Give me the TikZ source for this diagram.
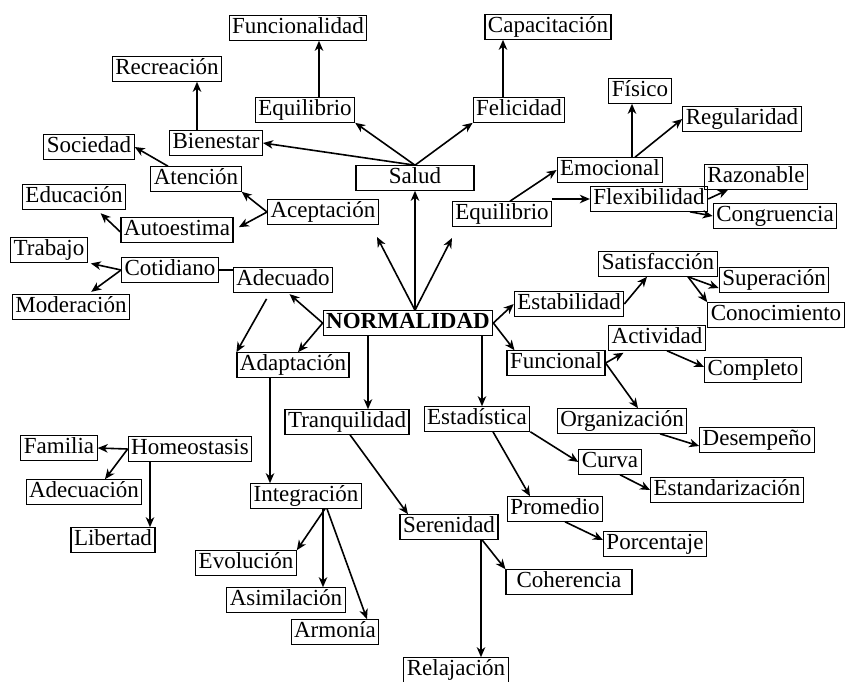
\documentclass[tikz,border=0pt]{standalone}
\usepackage{fontspec}
\setmainfont{Liberation Serif}
\usetikzlibrary{arrows.meta,calc}
\begin{document}
\begin{tikzpicture}[x=1pt,y=-1pt,
  box/.style={draw,line width=1.1pt,inner xsep=3pt,inner ysep=1.5pt,
    text height=16pt,text depth=5.5pt,font=\fontsize{23}{27}\selectfont},
  arr/.style={line width=1.6pt,-{Stealth[length=10pt,width=8.5pt,inset=3pt]}},
  plain/.style={line width=1.6pt}]
\fill[white] (0,0) rectangle (846,681);
\useasboundingbox (0,0) rectangle (846,681);
% nodes
\node[box] (Funcionalidad) at (298,28) {Funcionalidad};
\node[box] (Capacitacion) at (548,27) {Capacitación};
\node[box] (Recreacion) at (167,69) {Recreación};
\node[box] (EquilibrioT) at (305,110) {Equilibrio};
\node[box] (Felicidad) at (519,110) {Felicidad};
\node[box] (Fisico) at (640,91) {Físico};
\node[box] (Regularidad) at (742,119) {Regularidad};
\node[box] (Bienestar) at (216,143) {Bienestar};
\node[box] (Sociedad) at (89,147) {Sociedad};
\node[box,minimum width=118pt] (Salud) at (415,178) {Salud};
\node[box] (Emocional) at (610,170) {Emocional};
\node[box] (Atencion) at (196,179) {Atención};
\node[box] (Razonable) at (756,177) {Razonable};
\node[box] (Flexibilidad) at (649,199) {Flexibilidad};
\node[box] (Congruencia) at (775,216) {Congruencia};
\node[box] (EquilibrioM) at (502,214) {Equilibrio};
\node[box] (Aceptacion) at (323,212) {Aceptación};
\node[box] (Educacion) at (74,197) {Educación};
\node[box] (Autoestima) at (177,230) {Autoestima};
\node[box] (Trabajo) at (49,250) {Trabajo};
\node[box] (Cotidiano) at (170,270) {Cotidiano};
\node[box] (Adecuado) at (283,280) {Adecuado};
\node[box] (Moderacion) at (71,307) {Moderación};
\node[box] (Satisfaccion) at (658,264) {Satisfacción};
\node[box] (Superacion) at (774,280) {Superación};
\node[box] (Estabilidad) at (569,304) {Estabilidad};
\node[box] (Conocimiento) at (776,315) {Conocimiento};
\node[box,font=\fontsize{23}{27}\selectfont\bfseries] (Normal) at (408,323) {NORMALIDAD};
\node[box] (Actividad) at (657,338) {Actividad};
\node[box] (Adaptacion) at (293,365) {Adaptación};
\node[box] (Funcional) at (556,363) {Funcional};
\node[box] (Completo) at (753,370) {Completo};
\node[box] (Tranquilidad) at (347,422) {Tranquilidad};
\node[box] (Estadistica) at (477,419) {Estadística};
\node[box] (Organizacion) at (622,421) {Organización};
\node[box] (Desempeno) at (757,440) {Desempeño};
\node[box] (Familia) at (59,448) {Familia};
\node[box] (Homeostasis) at (190,449) {Homeostasis};
\node[box] (Curva) at (610,462) {Curva};
\node[box] (Integracion) at (306,496) {Integración};
\node[box] (Adecuacion) at (84,492) {Adecuación};
\node[box] (Estandarizacion) at (727,490) {Estandarización};
\node[box] (Promedio) at (555,509) {Promedio};
\node[box] (Serenidad) at (449,527) {Serenidad};
\node[box] (Libertad) at (113,540) {Libertad};
\node[box] (Porcentaje) at (655,544) {Porcentaje};
\node[box] (Evolucion) at (246,563) {Evolución};
\node[box,minimum width=126pt] (Coherencia) at (569,582) {Coherencia};
\node[box] (Asimilacion) at (286,600) {Asimilación};
\node[box] (Armonia) at (335,632) {Armonía};
\node[box] (Relajacion) at (456,670) {Relajación};
% free ends
\coordinate (hub) at ([xshift=7pt]Normal.north);
\coordinate (freeL) at (377,237);
\coordinate (freeR) at (452,238);
% connectors
\draw[arr] (Salud.north) -- (Bienestar.east);
\draw[arr] (Salud.north) -- (EquilibrioT.south east);
\draw[arr] (Salud.north) -- (Felicidad.south west);
\draw[arr] ([xshift=14pt]EquilibrioT.north) -- ([xshift=14pt]EquilibrioT.north |- Funcionalidad.south);
\draw[arr] ([xshift=-16pt]Felicidad.north) -- ([xshift=-16pt]Felicidad.north |- Capacitacion.south);
\draw[arr] ([xshift=-19pt]Bienestar.north) -- ([xshift=-19pt]Bienestar.north |- Recreacion.south);
\draw[arr] ([xshift=-28pt]Atencion.north) -- (Sociedad.east);
\draw[arr] (Aceptacion.west) -- (Atencion.south east);
\draw[arr,shorten >=6pt] (Aceptacion.west) -- (Autoestima.east);
\draw[arr,shorten >=5pt] ([yshift=-2pt]Autoestima.west) -- ([xshift=23pt]Educacion.south);
\draw[arr] (hub) -- (hub |- Salud.south);
\draw[arr] (hub) -- (freeL);
\draw[arr] (hub) -- (freeR);
\draw[arr] ([xshift=8pt]EquilibrioM.north) -- (Emocional.west);
\draw[arr] (EquilibrioM.east |- Flexibilidad.west) -- (Flexibilidad.west);
\draw[arr] ([xshift=22pt]Emocional.north) -- ([xshift=22pt]Emocional.north |- Fisico.south);
\draw[arr] ([xshift=25pt]Emocional.north) -- (Regularidad.west);
\draw[arr] (Flexibilidad.east) -- ([xshift=-28pt]Razonable.south);
\draw[arr] ([xshift=41pt]Flexibilidad.south) -- (Congruencia.west);
\draw[arr,shorten >=3pt] (Cotidiano.west) -- (Trabajo.south east);
\draw[arr,shorten >=4pt] (Cotidiano.west) -- ([xshift=17pt]Moderacion.north);
\draw[plain] (Cotidiano.east) -- (Cotidiano.east -| Adecuado.west);
\draw[arr,shorten >=2pt] (Normal.west) -- ([xshift=5pt]Adecuado.south);
\draw[arr] (Normal.west) -- ([xshift=5pt]Adaptacion.north);
\draw[arr,shorten <=7pt] ([xshift=-13pt]Adecuado.south) -- (Adaptacion.north west);
\draw[arr] ([xshift=-23pt]Adaptacion.south) -- ([xshift=-23pt]Adaptacion.south |- Integracion.north);
\draw[arr] ([xshift=-40pt]Normal.south) -- ([xshift=-40pt]Normal.south |- Tranquilidad.north);
\draw[arr] ([xshift=74pt]Normal.south) -- ([xshift=74pt]Normal.south |- Estadistica.north);
\draw[arr] (Normal.east) -- (Estabilidad.west);
\draw[arr] (Normal.east) -- ([xshift=8pt]Funcional.north west);
\draw[arr] (Estabilidad.east) -- ([xshift=-11pt]Satisfaccion.south);
\draw[arr] ([xshift=30pt]Satisfaccion.south) -- ([yshift=-8pt]Superacion.west);
\draw[arr] ([xshift=30pt]Satisfaccion.south) -- (Conocimiento.north west);
\draw[arr,shorten >=4pt] (Funcional.east) -- ([xshift=-30pt]Actividad.south);
\draw[arr] ([xshift=10pt]Actividad.south) -- ([yshift=3pt]Completo.west);
\draw[arr] (Funcional.east) -- ([xshift=16pt]Organizacion.north);
\draw[arr] ([xshift=38pt]Organizacion.south) -- ([yshift=-6pt]Desempeno.west);
\draw[arr] (Estadistica.south east) -- (Curva.west);
\draw[arr] ([xshift=16pt]Estadistica.south) -- ([xshift=-25pt]Promedio.north);
\draw[arr] ([xshift=10pt]Curva.south) -- (Estandarizacion.west);
\draw[arr] ([xshift=10pt]Promedio.south) -- ([yshift=4pt]Porcentaje.west);
\draw[arr] ([xshift=3pt]Tranquilidad.south) -- ([xshift=-41pt]Serenidad.north);
\draw[arr] ([xshift=33pt]Serenidad.south) -- (Coherencia.north west);
\draw[arr] ([xshift=32pt]Serenidad.south) -- ([xshift=32pt]Serenidad.south |- Relajacion.north);
\draw[arr] ([xshift=19pt]Integracion.south) -- (Evolucion.north east);
\draw[arr] ([xshift=17pt]Integracion.south) -- ([xshift=17pt]Integracion.south |- Asimilacion.north);
\draw[arr] ([xshift=21pt]Integracion.south) -- ([xshift=32pt]Armonia.north);
\draw[arr] (Homeostasis.west) -- (Familia.east);
\draw[arr] (Homeostasis.west) -- ([xshift=21pt]Adecuacion.north);
\draw[arr] ([xshift=-40pt]Homeostasis.south) -- ([xshift=-40pt]Homeostasis.south |- Libertad.north);
\end{tikzpicture}
\end{document}
